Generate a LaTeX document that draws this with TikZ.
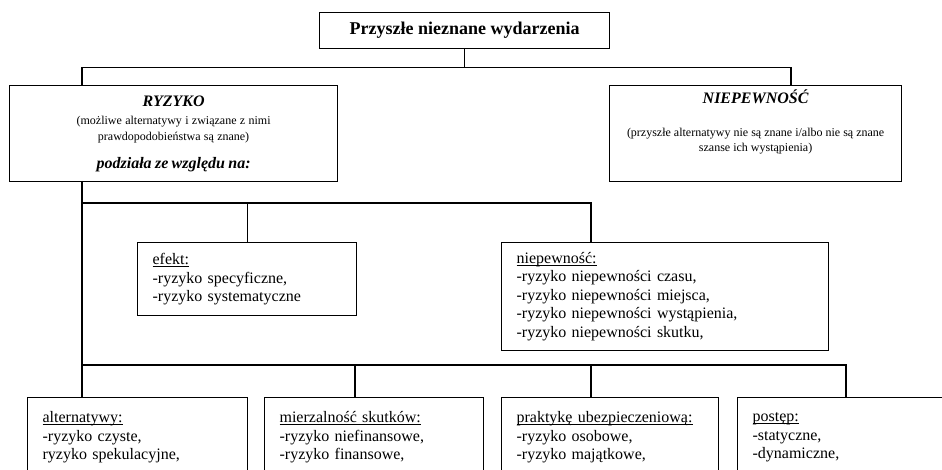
\documentclass[tikz,border=0pt]{standalone}
\usepackage{fontspec}
\setmainfont{Liberation Serif}

\newcommand\hdr[1]{\underline{\smash{#1}}\vphantom{#1}}

\begin{document}
\begin{tikzpicture}[x=1pt,y=-1pt,
	box/.style={draw, line width=1.2pt, inner sep=0pt, anchor=north west},
	listbox/.style={box, align=left, inner xsep=15pt, font=\fontsize{16}{18.5}\selectfont},
	link/.style={line width=1.2pt}]
	\useasboundingbox (0,0) rectangle (942,470);
	\clip (0,0) rectangle (942,470);
	% boxes
	\node[box, minimum width=290pt, minimum height=36pt, font=\bfseries\fontsize{18}{21}\selectfont] (event) at (319,12) {Przyszłe nieznane wydarzenia};
	\node[box, minimum width=328pt, minimum height=96pt, text width=310pt, align=center] (risk) at (9,85)
		{{\bfseries\itshape\fontsize{16}{18}\selectfont RYZYKO\par}\vspace{2pt}
		{\fontsize{12}{16}\selectfont (możliwe alternatywy i związane z nimi\\ prawdopodobieństwa są znane)\par}
		{\bfseries\itshape\fontsize{16}{28}\selectfont podziała ze względu na:\par}};
	\node[box, minimum width=292pt, minimum height=96pt] (uncert) at (609,85)
		{\parbox[c][96pt][t]{282pt}{\centering\vspace*{4pt}
		{\bfseries\itshape\fontsize{16}{18}\selectfont NIEPEWNOŚĆ\par}\vspace{18pt}
		{\fontsize{12}{15}\selectfont (przyszłe alternatywy nie są znane i/albo nie są znane\\ szanse ich wystąpienia)\par}}};
	\node[listbox, minimum height=73pt, text width=189pt] (effect) at (137,242)
		{\hdr{efekt:}\\ -ryzyko specyficzne,\\ -ryzyko systematyczne};
	\node[listbox, minimum height=108pt, text width=297pt] (doubt) at (501,242)
		{\hdr{niepewność:}\\ -ryzyko niepewności czasu,\\ -ryzyko niepewności miejsca,\\ -ryzyko niepewności wystąpienia,\\ -ryzyko niepewności skutku,};
	\node[listbox, minimum height=80pt, text width=190pt] (alt) at (27,397)
		{\hdr{alternatywy:}\\ -ryzyko czyste,\\ ryzyko spekulacyjne,};
	\node[listbox, minimum height=80pt, text width=189pt] (meas) at (264,397)
		{\hdr{mierzalność skutków:}\\ -ryzyko niefinansowe,\\ -ryzyko finansowe,};
	\node[listbox, minimum height=80pt, text width=187pt] (insur) at (501,397)
		{\hdr{praktykę ubezpieczeniową:}\\ -ryzyko osobowe,\\ -ryzyko majątkowe,};
	\node[listbox, minimum height=80pt, text width=188pt] (prog) at (737,397)
		{\hdr{postęp:}\\ -statyczne,\\ -dynamiczne,};
	% stem points
	\coordinate (riskin) at (82,85);
	\coordinate (uncin) at (791,85);
	\coordinate (riskout) at (82,181);
	\coordinate (busB) at (82,203);
	\coordinate (busC) at (82,365);
	\coordinate (doubtin) at (591,242);
	\coordinate (measin) at (355,397);
	\coordinate (insurin) at (591,397);
	\coordinate (progin) at (846,397);
	% lines
	\draw[link] (event.south) -- ++(0,18) coordinate (busA);
	\draw[link] (riskin) |- (busA) -| (uncin);
	\draw[link] (riskout) -- (riskout |- alt.north);
	\draw[link] (busB) -| (doubtin);
	\draw[link] (effect.north) -- (effect.north |- busB);
	\draw[link] (busC) -| (progin);
	\draw[link] (measin |- busC) -- (measin);
	\draw[link] (insurin |- busC) -- (insurin);
\end{tikzpicture}
\end{document}
